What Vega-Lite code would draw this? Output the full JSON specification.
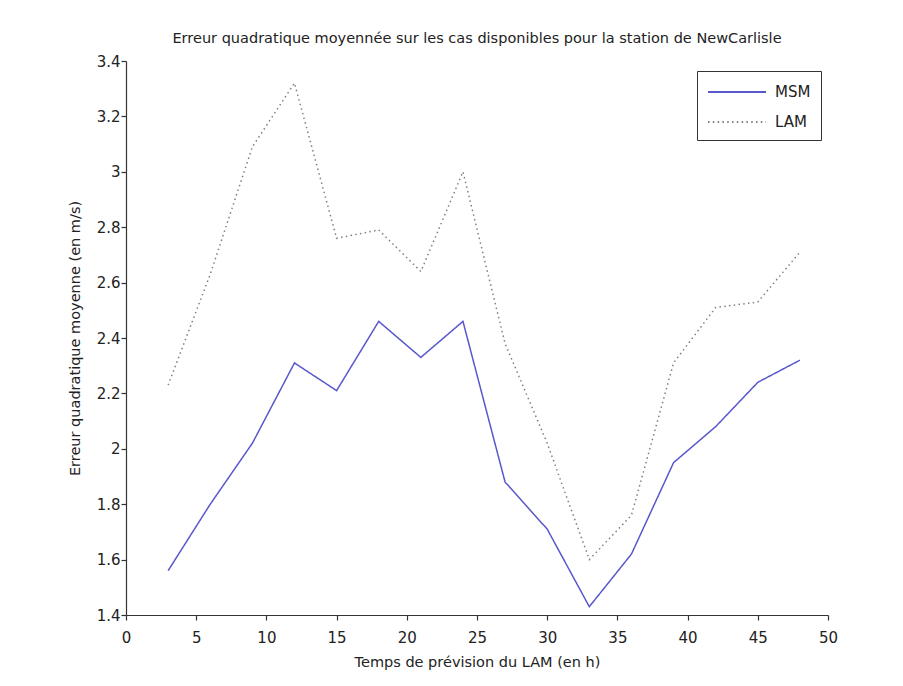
{
  "$schema": "https://vega.github.io/schema/vega-lite/v6.json",
  "width": 702,
  "height": 554,
  "autosize": {"type": "none"},
  "padding": {"left": 126, "top": 61, "right": 75, "bottom": 71},
  "background": "white",
  "title": {
    "text": "Erreur quadratique moyennée sur les cas disponibles pour la station de NewCarlisle",
    "font": "DejaVu Sans",
    "fontSize": 14.5,
    "fontWeight": "normal",
    "color": "#222222",
    "anchor": "middle",
    "frame": "group",
    "offset": 8
  },
  "data": {
    "values": [
      {"h": 3, "serie": "MSM", "v": 1.56},
      {"h": 6, "serie": "MSM", "v": 1.80},
      {"h": 9, "serie": "MSM", "v": 2.02},
      {"h": 12, "serie": "MSM", "v": 2.31},
      {"h": 15, "serie": "MSM", "v": 2.21},
      {"h": 18, "serie": "MSM", "v": 2.46},
      {"h": 21, "serie": "MSM", "v": 2.33},
      {"h": 24, "serie": "MSM", "v": 2.46},
      {"h": 27, "serie": "MSM", "v": 1.88},
      {"h": 30, "serie": "MSM", "v": 1.71},
      {"h": 33, "serie": "MSM", "v": 1.43},
      {"h": 36, "serie": "MSM", "v": 1.62},
      {"h": 39, "serie": "MSM", "v": 1.95},
      {"h": 42, "serie": "MSM", "v": 2.08},
      {"h": 45, "serie": "MSM", "v": 2.24},
      {"h": 48, "serie": "MSM", "v": 2.32},
      {"h": 3, "serie": "LAM", "v": 2.23},
      {"h": 6, "serie": "LAM", "v": 2.63},
      {"h": 9, "serie": "LAM", "v": 3.09},
      {"h": 12, "serie": "LAM", "v": 3.32},
      {"h": 15, "serie": "LAM", "v": 2.76},
      {"h": 18, "serie": "LAM", "v": 2.79},
      {"h": 21, "serie": "LAM", "v": 2.64},
      {"h": 24, "serie": "LAM", "v": 3.00},
      {"h": 27, "serie": "LAM", "v": 2.38},
      {"h": 30, "serie": "LAM", "v": 2.02},
      {"h": 33, "serie": "LAM", "v": 1.60},
      {"h": 36, "serie": "LAM", "v": 1.76},
      {"h": 39, "serie": "LAM", "v": 2.31},
      {"h": 42, "serie": "LAM", "v": 2.51},
      {"h": 45, "serie": "LAM", "v": 2.53},
      {"h": 48, "serie": "LAM", "v": 2.71}
    ]
  },
  "mark": {"type": "line", "strokeWidth": 1.5, "clip": false},
  "encoding": {
    "x": {
      "field": "h",
      "type": "quantitative",
      "scale": {"domain": [0, 50], "nice": false, "zero": false},
      "axis": {
        "title": "Temps de prévision du LAM (en h)",
        "values": [0, 5, 10, 15, 20, 25, 30, 35, 40, 45, 50],
        "format": "~g",
        "labelPadding": 10,
        "titlePadding": 10,
        "encode": {"ticks": {"update": {"y2": {"value": -5}}}}
      }
    },
    "y": {
      "field": "v",
      "type": "quantitative",
      "scale": {"domain": [1.4, 3.4], "nice": false, "zero": false},
      "axis": {
        "title": "Erreur quadratique moyenne (en m/s)",
        "values": [1.4, 1.6, 1.8, 2, 2.2, 2.4, 2.6, 2.8, 3, 3.2, 3.4],
        "format": "~g",
        "labelPadding": 1,
        "titlePadding": 14,
        "encode": {"ticks": {"update": {"x2": {"value": 5}}}}
      }
    },
    "color": {
      "field": "serie",
      "type": "nominal",
      "scale": {"domain": ["MSM", "LAM"], "range": ["#5858cc", "#808080"]},
      "legend": {
        "title": null,
        "orient": "none",
        "legendX": 571,
        "legendY": 10,
        "strokeColor": "#333333",
        "fillColor": "white",
        "padding": 10,
        "symbolType": "M-2.9,0H2.9",
        "symbolSize": 400,
        "symbolOffset": 19,
        "symbolStrokeWidth": 2,
        "labelFont": "DejaVu Sans",
        "labelFontSize": 15,
        "labelColor": "#222222",
        "labelOffset": 27,
        "rowPadding": 11
      }
    },
    "strokeDash": {
      "field": "serie",
      "type": "nominal",
      "scale": {"domain": ["MSM", "LAM"], "range": [[1, 0], [1.5, 3.3]]},
      "legend": {
        "title": null,
        "orient": "none",
        "legendX": 571,
        "legendY": 10,
        "strokeColor": "#333333",
        "fillColor": "white",
        "padding": 10,
        "symbolType": "M-2.9,0H2.9",
        "symbolSize": 400,
        "symbolOffset": 19,
        "symbolStrokeWidth": 2,
        "labelFont": "DejaVu Sans",
        "labelFontSize": 15,
        "labelColor": "#222222",
        "labelOffset": 27,
        "rowPadding": 11
      }
    }
  },
  "config": {
    "view": {"stroke": null},
    "axis": {
      "grid": false,
      "domainColor": "#333333",
      "domainWidth": 1.2,
      "tickColor": "#333333",
      "tickSize": 5,
      "tickWidth": 1.2,
      "labelFont": "DejaVu Sans",
      "labelFontSize": 15,
      "labelColor": "#222222",
      "titleFont": "DejaVu Sans",
      "titleFontSize": 14.5,
      "titleFontWeight": "normal",
      "titleColor": "#222222",
      "labelFlush": false,
      "labelOverlap": false
    }
  }
}
